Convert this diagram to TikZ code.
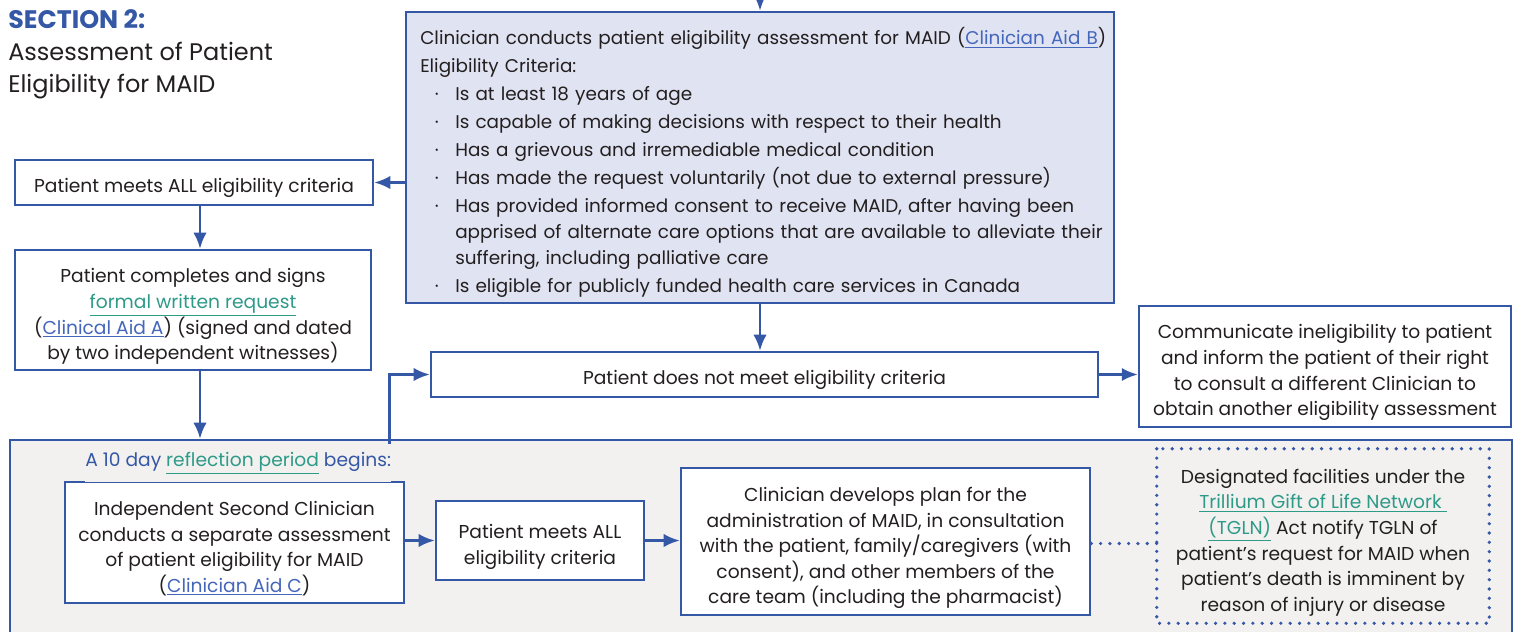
\documentclass[tikz,border=0pt]{standalone}
\usepackage{fontspec}
\setmainfont{Poppins}
\usetikzlibrary{arrows.meta}

\definecolor{maidblue}{HTML}{3457A6}
\definecolor{critfill}{HTML}{E0E3F1}
\definecolor{periodfill}{HTML}{F2F1F0}
\definecolor{linkblue}{HTML}{4466BB}
\definecolor{linkteal}{HTML}{2E9A88}
\definecolor{ink}{HTML}{231F20}

\newcommand{\lnkB}[1]{{\color{linkblue}\underline{#1}}}
\newcommand{\lnkT}[1]{{\color{linkteal}\underline{#1}}}
\newcommand{\critpt}{\hspace*{11pt}\makebox[15.25pt][l]{\textperiodcentered}}
\newcommand{\critgap}{\hspace*{26.25pt}}

\tikzset{
  boxsize/.style 2 args={minimum width=#1*0.75pt, minimum height=#2*0.75pt},
  box/.style={draw=maidblue, line width=1.9pt, fill=white, align=center, inner sep=0pt,
    text=ink, font=\fontsize{14}{19.2}\selectfont,
    execute at begin node={\rule{0pt}{#1}}},
  box/.default=19.5pt,
  wrapbox/.style={box=#1, align=flush center},
  arr/.style={draw=maidblue, line width=1.9pt, -{Latex[length=12pt,width=10pt]}},
  dotline/.style={draw=maidblue, line width=2.7pt, line cap=round, dash pattern=on 0pt off 7pt},
}

\begin{document}
\begin{tikzpicture}[x=0.75pt, y=-0.75pt]
    \useasboundingbox (0,0) rectangle (1515,631);

    % titel links oben
    \node[anchor=north west, align=left, inner sep=0pt, text=ink,
      font=\fontsize{18}{24}\selectfont] (title) at (8,9)
      {{\fontsize{19}{24}\selectfont\bfseries\color{maidblue}SECTION 2:}\\Assessment of Patient\\Eligibility for MAID};

    \node[box, boxsize={1502}{220}, fill=periodfill] (period) at (761,550) {};

    \node[box, boxsize={708}{291}, fill=critfill] (crit) at (760,157.5) {};
    \node[anchor=north west, align=left, inner sep=0pt, text width=515pt, text=ink,
      font=\fontsize{13.8}{21}\selectfont] (crittext) at (420,27.5)
      {Clinician conducts patient eligibility assessment for MAID (\lnkB{Clinician Aid B})\\
       Eligibility Criteria:\\
       \critpt Is at least 18 years of age\\
       \critpt Is capable of making decisions with respect to their health\\
       \critpt Has a grievous and irremediable medical condition\\
       \critpt Has made the request voluntarily (not due to external pressure)\\
       \critpt Has provided informed consent to receive MAID, after having been\\[-1.5pt]
       \critgap apprised of alternate care options that are available to alleviate their\\[-1.5pt]
       \critgap suffering, including palliative care\\
       \critpt Is eligible for publicly funded health care services in Canada};

    \node[box, boxsize={358}{45}] (meetA) at (194,182.5) {Patient meets ALL eligibility criteria};
    \node[wrapbox=20.5pt, boxsize={356}{120}, text width=262pt] (req) at (193,310)
      {Patient completes and signs\\\lnkT{formal written request}\\(\lnkB{Clinical Aid A}) (signed and dated\\by two independent witnesses)};
    \node[box, boxsize={667}{45}] (notmeet) at (764.5,374.5) {Patient does not meet eligibility criteria};
    \node[wrapbox=20pt, boxsize={372}{121}, text width=274pt] (comm) at (1325,366.5)
      {Communicate ineligibility to patient\\and inform the patient of their right\\to consult a different Clinician to\\obtain another eligibility assessment};

    \node[wrapbox=20pt, boxsize={339}{121}, text width=250pt] (second) at (234.5,542.5)
      {Independent Second Clinician\\conducts a separate assessment\\of patient eligibility for MAID\\(\lnkB{Clinician Aid C})};
    \node[wrapbox=20.5pt, boxsize={208}{79}, text width=150pt] (meetB) at (540,540.5) {Patient meets ALL\\eligibility criteria};
    \node[wrapbox=20.5pt, boxsize={409}{147}, text width=300pt] (plan) at (885.5,541.5)
      {Clinician develops plan for the\\administration of MAID, in consultation\\with the patient, family/caregivers (with\\consent), and other members of the\\care team (including the pharmacist)};
    \node[wrapbox=20.5pt, boxsize={330}{172}, text width=242pt, draw=none, fill=none] (tgln) at (1323,536)
      {Designated facilities under the\\\lnkT{Trillium Gift of Life Network }\\\lnkT{(TGLN)} Act notify TGLN of\\patient’s request for MAID when\\patient’s death is imminent by\\reason of injury or disease};
    \draw[dotline] (tgln.north west) rectangle (tgln.south east);

    \coordinate (entry) at (760,-12);
    \draw[arr] (entry) -- (crit.north);
    \draw[arr] (crit.west |- meetA.east) -- (meetA.east);
    \draw[arr] ([xshift=4.5pt]meetA.south) -- ([xshift=4.5pt]meetA.south |- req.north);
    \draw[arr] ([xshift=5.25pt]req.south) -- ([xshift=5.25pt]req.south |- period.north);
    \draw[arr] (crit.south) -- (crit.south |- notmeet.north);
    \draw[arr] (notmeet.east) -- (notmeet.east -| comm.west);
    \draw[arr] ([xshift=-12pt]second.north east) |- (notmeet.west);
    \draw[arr] (second.east |- meetB.west) -- (meetB.west);
    \draw[arr] (meetB.east) -- (meetB.east -| plan.west);
    \draw[dotline] ([yshift=-1.5pt]plan.east) -- ([yshift=-1.5pt]plan.east -| tgln.west);

    \node[anchor=west, fill=periodfill, inner xsep=0pt, inner ysep=6pt,
      font=\fontsize{14}{19}\selectfont] (begins) at (85,463)
      {\color{maidblue}A 10 day \lnkT{reflection period} begins:};
\end{tikzpicture}
\end{document}
